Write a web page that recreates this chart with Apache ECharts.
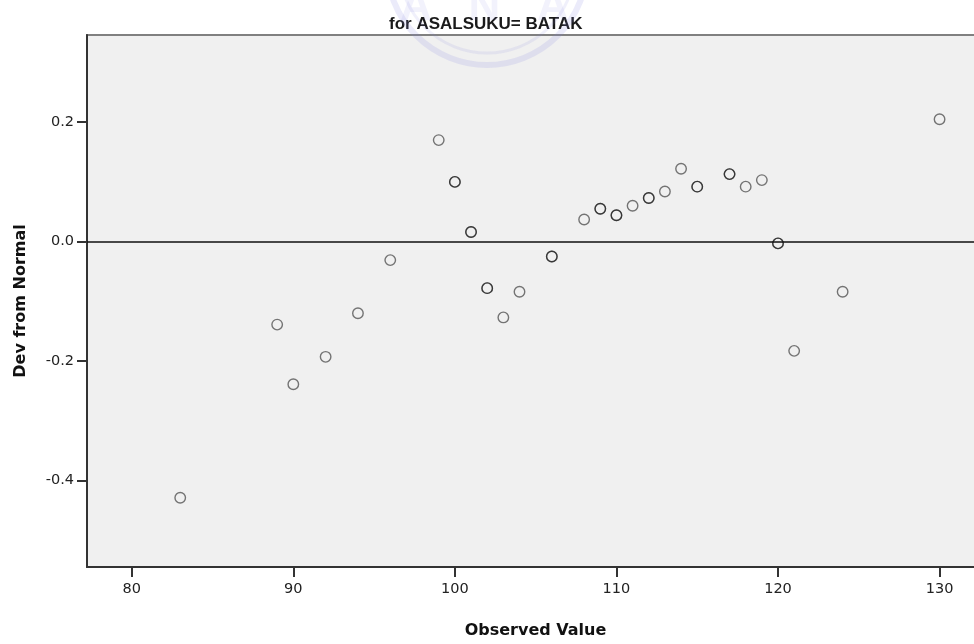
<!DOCTYPE html>
<html>
<head>
<meta charset="utf-8">
<script src="https://cdn.jsdelivr.net/npm/echarts@6/dist/echarts.min.js"></script>
<style>
  html, body { margin: 0; padding: 0; background: #fff; overflow: hidden; }
  #chart { width: 984px; height: 644px; }
</style>
</head>
<body>
<div id="chart"></div>
<script>
// observed values (ties repeated, they show as darker circles)
var observed = [83, 89, 90, 92, 94, 96, 99, 100, 100, 101, 101, 102, 102, 103, 104, 106, 106,
    108, 109, 109, 110, 110, 111, 112, 112, 113, 114, 115, 115, 117, 117, 118, 119, 120, 120,
    121, 124, 130];
// deviation from normal for each observed value
var devFromNormal = [-0.429, -0.139, -0.239, -0.193, -0.120, -0.031, 0.170, 0.100, 0.100, 0.016, 0.016,
    -0.078, -0.078, -0.127, -0.084, -0.025, -0.025, 0.037, 0.055, 0.055, 0.044, 0.044, 0.060,
    0.073, 0.073, 0.084, 0.122, 0.092, 0.092, 0.113, 0.113, 0.092, 0.103, -0.003, -0.003,
    -0.183, -0.084, 0.205];
var xTicks = [80, 90, 100, 110, 120, 130];
var yTicks = [-0.4, -0.2, 0.0, 0.2];

var points = [];
for (var i = 0; i < observed.length; i++) {
    points.push([observed[i], devFromNormal[i]]);
}

var chart = echarts.init(document.getElementById('chart'));

var option = {
    animation: false,
    backgroundColor: '#ffffff',
    title: {
        text: 'for ASALSUKU= BATAK',
        left: 384,
        top: 11,
        textStyle: {
            fontFamily: '"Liberation Sans Narrow", "Liberation Sans", Arial, sans-serif',
            fontWeight: 'bold',
            fontSize: 17,
            color: '#1a1a1a'
        }
    },
    grid: {
        left: 87,
        top: 35,
        right: 0,
        bottom: 76,
        show: true,
        backgroundColor: '#f0f0f0',
        borderColor: '#808080',
        borderWidth: 2
    },
    xAxis: {
        type: 'value',
        min: 77.23,
        max: 132.75,
        name: 'Observed Value',
        nameLocation: 'middle',
        nameGap: 56,
        nameTextStyle: {
            fontFamily: '"DejaVu Sans", sans-serif',
            fontWeight: 'bold',
            fontSize: 16,
            color: '#111'
        },
        splitLine: { show: false },
        axisLine: { onZero: false, lineStyle: { color: '#333', width: 2 } },
        axisTick: {
            customValues: xTicks,
            length: 10,
            lineStyle: { color: '#333', width: 2 }
        },
        axisLabel: {
            customValues: xTicks,
            margin: 15,
            fontFamily: '"DejaVu Sans", sans-serif',
            fontSize: 14.5,
            color: '#222'
        }
    },
    yAxis: {
        type: 'value',
        min: -0.545,
        max: 0.346,
        name: 'Dev from Normal',
        nameLocation: 'middle',
        nameGap: 58,
        nameTextStyle: {
            fontFamily: '"DejaVu Sans", sans-serif',
            fontWeight: 'bold',
            fontSize: 16,
            color: '#111'
        },
        splitLine: { show: false },
        axisLine: { onZero: false, lineStyle: { color: '#333', width: 2 } },
        axisTick: {
            customValues: yTicks,
            length: 10,
            lineStyle: { color: '#333', width: 2 }
        },
        axisLabel: {
            customValues: yTicks,
            margin: 13,
            fontFamily: '"DejaVu Sans", sans-serif',
            fontSize: 14.5,
            color: '#222',
            formatter: function (v) { return v.toFixed(1); }
        }
    },
    // faint watermark over the top of the chart
    graphic: [
        { type: 'circle', z: 100, silent: true, shape: { cx: 487, cy: -35, r: 100 },
          style: { fill: 'none', stroke: 'rgba(130,130,225,0.16)', lineWidth: 6 } },
        { type: 'circle', z: 100, silent: true, shape: { cx: 487, cy: -35, r: 88 },
          style: { fill: 'none', stroke: 'rgba(130,130,225,0.12)', lineWidth: 3 } },
        { type: 'text', z: 100, silent: true, left: 400, top: -14,
          style: { text: 'A   N   A', fontSize: 44, fontWeight: 'bold', fill: 'rgba(130,130,225,0.1)' } }
    ],
    series: [{
        type: 'scatter',
        data: points,
        symbol: 'circle',
        symbolSize: 10.5,
        itemStyle: {
            color: 'rgba(0,0,0,0)',
            borderColor: 'rgba(0,0,0,0.65)',
            borderWidth: 1.4
        },
        markLine: {
            silent: true,
            symbol: 'none',
            label: { show: false },
            lineStyle: { color: '#111', width: 1.5, type: 'solid' },
            data: [{ yAxis: 0 }]
        }
    }]
};

chart.setOption(option);
</script>
</body>
</html>
